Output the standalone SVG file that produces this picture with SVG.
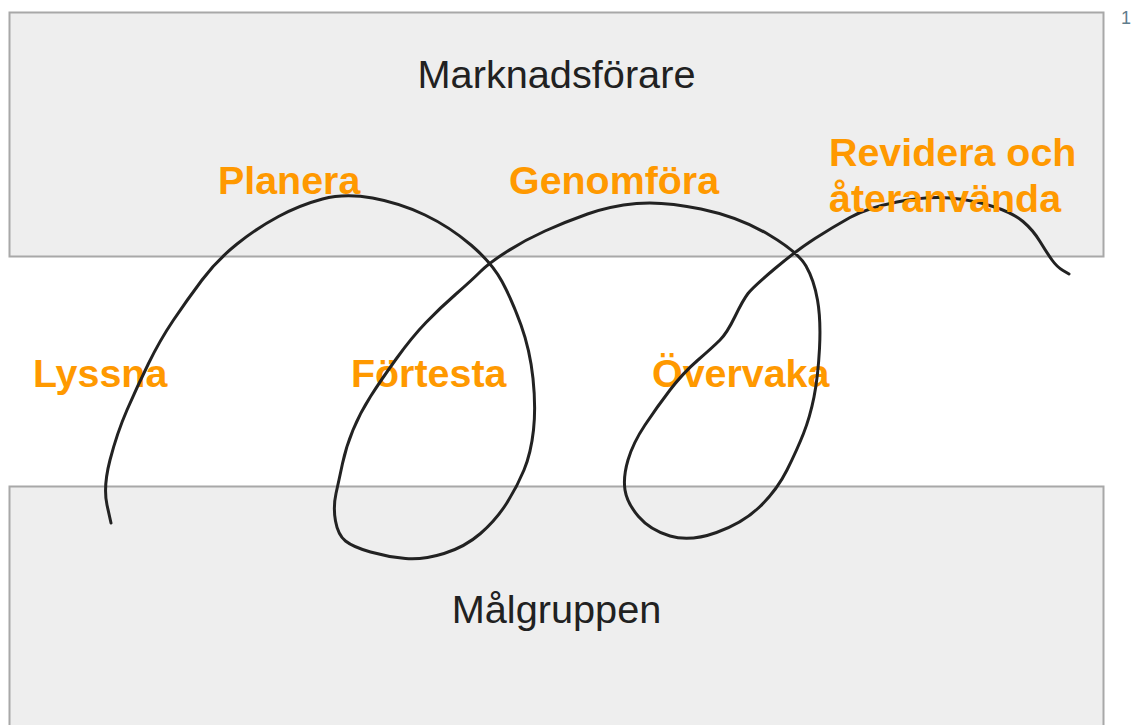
<svg xmlns="http://www.w3.org/2000/svg" width="1138" height="725" viewBox="0 0 1138 725">
  <style>
    .band { fill: #eeeeee; stroke: #a8a8a8; stroke-width: 2; }
    .band-label { font-family: "Liberation Sans", Arial, sans-serif; font-size: 39.7px; fill: #212121; text-anchor: middle; }
    .step { font-family: "Liberation Sans", Arial, sans-serif; font-size: 39.4px; font-weight: bold; fill: #ff9900; }
    .loop { fill: none; stroke: #222222; stroke-width: 3; stroke-linecap: round; stroke-linejoin: round; }
    .page { font-family: "Liberation Sans", Arial, sans-serif; font-size: 18px; fill: #5f7d8c; }
  </style>

  <rect width="1138" height="725" fill="#ffffff"/>

  <!-- top band: the marketer -->
  <g id="marknadsforare">
    <rect class="band" x="9.5" y="12.5" width="1094" height="244"/>
    <text class="band-label" x="556.5" y="88">Marknadsförare</text>
  </g>

  <!-- bottom band: the target group -->
  <g id="malgruppen">
    <rect class="band" x="9.5" y="486.5" width="1094" height="260"/>
    <text class="band-label" x="556.5" y="623">Målgruppen</text>
  </g>

  <!-- step labels drawn beneath the spiral -->
  <g id="lyssna"><text class="step" x="33" y="387">Lyssna</text></g>
  <g id="fortesta"><text class="step" x="351" y="387">Förtesta</text></g>
  <g id="overvaka"><text class="step" x="652" y="387">Övervaka</text></g>

  <!-- the spiral running through the process -->
  <g id="connectors">
    <path class="loop" d="M111,523 L107,505 Q103,487 110,460 Q117,433 127,410 Q137,387 148.5,363.5 Q160,340 173.5,320 Q187,300 202,280 Q217,260 237,244 Q257,228 278.5,216.5 Q300,205 322.5,199 Q345,193 372.5,198 Q400,203 425,215 Q450,227 471,245 Q492,263 502,281.5 Q512,300 521,325 Q530,350 533,378.5 Q536,407 533.5,430 Q531,453 524,470 Q517,487 506.5,503.5 Q496,520 480.5,533.5 Q465,547 444,553.5 Q423,560 405.5,558.5 Q388,557 370.5,552 Q353,547 345.5,541 Q338,535 335.5,521 Q333,507 336,493.5 Q339,480 342.5,463.5 Q346,447 353,430 Q360,413 370.5,396.5 Q381,380 396.5,358.5 Q412,337 426,322.5 Q440,308 456,294 Q472,280 480.5,271.5 Q489,263 507,251.5 Q525,240 545,231 Q565,222 587.5,214 Q610,206 636.5,203.5 Q663,201 701,209 Q739,217 768.5,234.5 Q798,252 806,266 Q814,280 817.5,300 Q821,320 819.5,348.5 Q818,377 814,397 Q810,417 803.5,433.5 Q797,450 787,470 Q777,490 760,506.5 Q743,523 716.5,532.5 Q690,542 670,536 Q650,530 638.5,516.5 Q627,503 625,490 Q623,477 628,460 Q633,443 645,425 Q657,407 670,390 Q683,373 698,360 Q713,347 720,340 Q727,333 735,316.5 Q743,300 748,293.5 Q753,287 775,268.5 Q797,250 815,238.5 Q833,227 850,217.5 Q867,208 897,202 Q927,196 950,198 Q973,200 993,206.5 Q1013,213 1023,221.5 Q1033,230 1040,241.5 Q1047,253 1052,260 Q1057,267 1063,270.5 L1069,274"/>
  </g>

  <!-- step labels drawn over the spiral -->
  <g id="planera"><text class="step" x="218" y="194">Planera</text></g>
  <g id="genomfora"><text class="step" x="509" y="194">Genomföra</text></g>
  <g id="revidera">
    <text class="step" x="829" y="166">Revidera och</text>
    <text class="step" x="829" y="212">återanvända</text>
  </g>

  <text class="page" x="1121" y="24">1</text>
</svg>
